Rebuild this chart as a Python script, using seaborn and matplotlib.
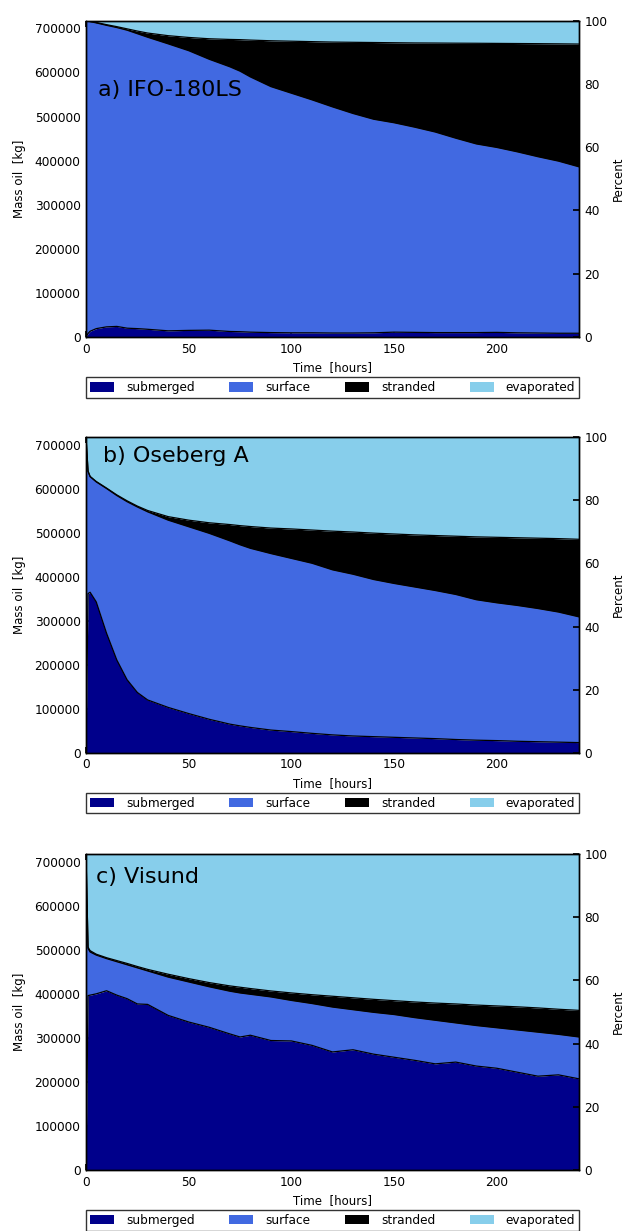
import numpy as np
import matplotlib
matplotlib.use("Agg")
import matplotlib.pyplot as plt
from matplotlib.patches import Patch
import seaborn as sns

# Time axis (hours) shared by all three runs
hours = [0, 1, 2, 5, 10, 15, 20, 25, 30, 40, 50, 60, 70, 75, 80, 90, 100,
         110, 120, 130, 140, 150, 160, 170, 180, 190, 200, 210, 220, 230, 240]

total_mass = 717500  # kg released

# Cumulative levels (kg): submerged, submerged+surface, submerged+surface+stranded
ifo_submerged = [0, 8000, 13000, 19000, 23000, 24000, 20000, 19000, 17500, 14000,
                 15000, 15500, 12500, 12000, 11000, 10000, 9500, 9500, 9000, 9000,
                 9500, 11000, 10500, 10000, 10000, 10000, 10500, 9500, 9000, 8500, 8500]
ifo_top_surface = [717500, 716500, 715500, 712500, 707000, 702000, 696000, 688000,
                   680000, 665000, 649500, 630000, 613000, 603000, 590000, 568000,
                   553000, 538000, 522000, 507000, 494000, 486000, 476000, 465000,
                   451000, 438000, 430000, 420000, 409000, 399000, 386000]
ifo_top_stranded = [717500, 716700, 715900, 713500, 708500, 704000, 699000, 694000,
                    689500, 683500, 679500, 676500, 675000, 674500, 673500, 672000,
                    671000, 670000, 669000, 668500, 668000, 667500, 667000, 666800,
                    666500, 666300, 666000, 665700, 665400, 665000, 664500]

ose_submerged = [0, 362000, 365000, 343000, 272000, 211000, 166000, 137000, 120000,
                 103000, 89000, 76000, 65000, 61000, 57500, 51500, 48000, 44000,
                 40500, 38000, 36500, 35000, 33500, 32000, 30000, 28500, 27500,
                 26000, 25000, 24000, 23000]
ose_top_surface = [717500, 640000, 628000, 616000, 601000, 585000, 571000, 559000,
                   548000, 529000, 514000, 499000, 482000, 473000, 465000, 453000,
                   442000, 431000, 416000, 406000, 394000, 385000, 377000, 369000,
                   360000, 348000, 341000, 335000, 328000, 320000, 309000]
ose_top_stranded = [717500, 640500, 628500, 617000, 602000, 586500, 573000, 561000,
                    551000, 537000, 529000, 523000, 519000, 516500, 514500, 511000,
                    509000, 506500, 504000, 502000, 499500, 497500, 495500, 494000,
                    492500, 491000, 490000, 489000, 488000, 487000, 485500]

vis_submerged = [0, 396000, 397000, 400000, 407000, 397000, 389000, 377000, 376000,
                 351000, 336000, 324000, 309000, 302000, 306000, 294000, 293000,
                 283000, 268000, 273000, 263000, 256000, 249000, 241000, 245000,
                 236000, 231000, 222000, 213000, 216000, 207000]
vis_top_surface = [717500, 503000, 495000, 488000, 480000, 473000, 466000, 459000,
                   452000, 438000, 427000, 416000, 406000, 402000, 399000, 393000,
                   385000, 378000, 370000, 364000, 358000, 353000, 346000, 340000,
                   334000, 328000, 323000, 318000, 313000, 308000, 302000]
vis_top_stranded = [717500, 506000, 498000, 490000, 482000, 475500, 469000, 462000,
                    455500, 444500, 434500, 425500, 418000, 415000, 412000, 406500,
                    402000, 398000, 394500, 391000, 387500, 384500, 381500, 379000,
                    377000, 374500, 372500, 370500, 368000, 365000, 362500]

panel_titles = ["a) IFO-180LS", "b) Oseberg A", "c) Visund"]
fate_labels = ["submerged", "surface", "stranded", "evaporated"]
fate_colors = ["#00008B", "#4169E1", "#000000", "#87CEEB"]

runs = [
    (ifo_submerged, ifo_top_surface, ifo_top_stranded),
    (ose_submerged, ose_top_surface, ose_top_stranded),
    (vis_submerged, vis_top_surface, vis_top_stranded),
]

sns.set_theme(style="ticks", rc={
    "xtick.direction": "in", "ytick.direction": "in",
    "xtick.top": True, "xtick.major.size": 4, "ytick.major.size": 4,
    "axes.edgecolor": "black", "axes.linewidth": 1.0,
    "xtick.color": "black", "ytick.color": "black",
    "axes.labelcolor": "black", "text.color": "black",
})
plt.rcParams["font.family"] = ["DejaVu Sans"]

W, H = 625, 1231
fig = plt.figure(figsize=(W / 100, H / 100), dpi=100)

# axes boxes in pixels: (top, bottom)
boxes = [(20.7, 337.0), (437.3, 752.7), (854.0, 1170.0)]
x_left, x_right = 86.0, 579.0
title_pos = [(0.024, 0.78), (0.035, 0.94), (0.020, 0.928)]

t = np.array(hours)
for i, ((sub, top_surf, top_str), (ytop, ybot)) in enumerate(zip(runs, boxes)):
    ax = fig.add_axes([x_left / W, 1 - ybot / H, (x_right - x_left) / W, (ybot - ytop) / H])
    sub = np.array(sub, float)
    top_surf = np.array(top_surf, float)
    top_str = np.array(top_str, float)
    layers = [sub, top_surf - sub, top_str - top_surf, total_mass - top_str]
    ax.stackplot(t, layers, colors=fate_colors, linewidth=0)
    for level in (sub, top_surf, top_str):
        sns.lineplot(x=t, y=level, ax=ax, color="black", linewidth=0.9, legend=False)

    ax.set_xlim(0, 240)
    ax.set_ylim(0, total_mass)
    ax.set_xticks([0, 50, 100, 150, 200])
    ax.set_yticks(np.arange(0, 700001, 100000))
    ax.tick_params(labelsize=8.7, pad=4)
    ax.tick_params(axis="x", top=True)
    ax.tick_params(axis="y", right=False)
    ax.set_xlabel("Time  [hours]", fontsize=8.5, labelpad=4)
    ax.set_ylabel("Mass oil  [kg]", fontsize=8.5, labelpad=6)
    ax.text(*title_pos[i], panel_titles[i], transform=ax.transAxes,
            fontsize=16, ha="left", va="center")

    ax2 = ax.twinx()
    ax2.set_ylim(0, 100)
    ax2.set_yticks([0, 20, 40, 60, 80, 100])
    ax2.tick_params(labelsize=8.7, direction="in", length=4, pad=4)
    ax2.set_ylabel("Percent", fontsize=8.5, labelpad=3)

    handles = [Patch(facecolor=c, edgecolor="none") for c in fate_colors]
    leg = ax.legend(handles, fate_labels, loc="upper left", ncol=4, mode="expand",
                    bbox_to_anchor=(0, -0.128, 1, 0), borderaxespad=0,
                    fontsize=8.7, frameon=True, fancybox=False, handlelength=2.0,
                    handleheight=0.8, borderpad=0.3, handletextpad=1.0)
    leg.get_frame().set_edgecolor("black")
    leg.get_frame().set_linewidth(1.0)

fig.savefig("out.png", dpi=100)
